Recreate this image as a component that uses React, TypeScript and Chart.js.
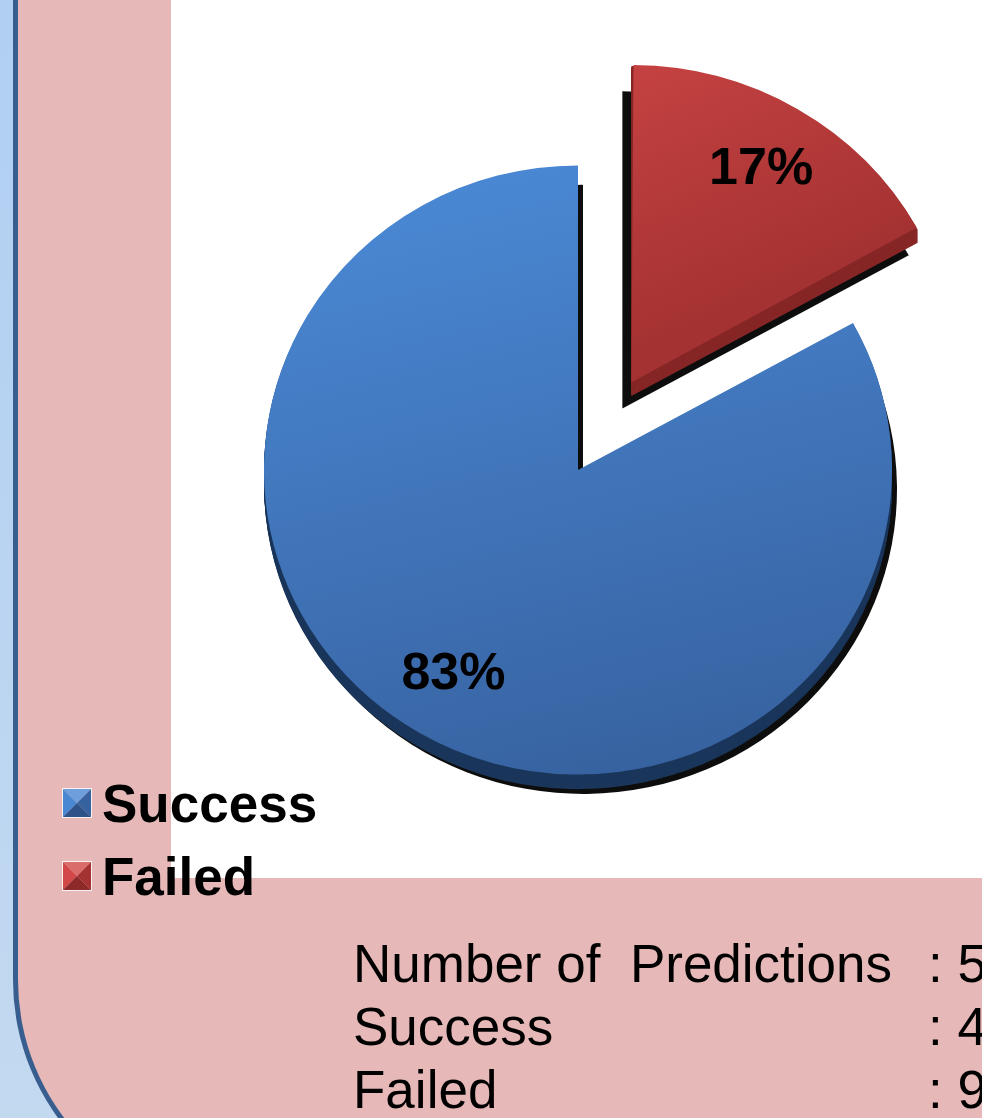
import React, { useEffect, useRef } from "react";
import { Chart, registerables } from "chart.js";

Chart.register(...registerables);

// ---- data ----
const categories = ["Success", "Failed"];
const counts = [44, 9];
const explodeOffsets = [0, 420];
const faceLight = ["#4a88d4", "#d24848"];
const faceDark = ["#3762a0", "#a53232"];
const sideColors = ["#1b365b", "#872626"];
const summaryLabels = ["Number of  Predictions", "Success", "Failed"];

const total = counts.reduce((a, b) => a + b, 0);
const summaryValues = [total, ...counts];

const SQUASH = 0.97;
const RADIUS = 314;
const FONT = '"Liberation Sans", Arial, Helvetica, sans-serif';
const shadowShift = [
  [5, 20],
  [-9, 27],
];
const depth = [15, 14];

function sliceGeom(el: any, offsetOpt: number) {
  const start = el.startAngle;
  const end = el.endAngle;
  const half = (start + end) / 2;
  const off = (offsetOpt || 0) / 4;
  const circ = end - start;
  const fix = 1 - Math.sin(Math.min(Math.PI, circ));
  return {
    x: el.x + Math.cos(half) * off,
    y: el.y + Math.sin(half) * off,
    r: el.outerRadius + off * fix,
    start,
    end,
    half,
  };
}

function slicePath(ctx: CanvasRenderingContext2D, g: any, dx: number, dy: number) {
  ctx.beginPath();
  ctx.moveTo(g.x + dx, g.y + dy);
  ctx.arc(g.x + dx, g.y + dy, g.r, g.start, g.end);
  ctx.closePath();
}

function centerOf(chart: any) {
  const a = chart.chartArea;
  return { cx: (a.left + a.right) / 2, cy: (a.top + a.bottom) / 2 };
}

const pie3d = {
  id: "pie3d",
  beforeDatasetsDraw(chart: any) {
    const ctx: CanvasRenderingContext2D = chart.ctx;
    const { cx, cy } = centerOf(chart);
    ctx.save();
    ctx.translate(cx, cy);
    ctx.scale(1, SQUASH);
    ctx.translate(-cx, -cy);
    const meta = chart.getDatasetMeta(0);
    const ds = chart.data.datasets[0];
    meta.data.forEach((el: any, i: number) => {
      const g = sliceGeom(el, ds.offset[i]);
      ctx.save();
      ctx.fillStyle = "rgba(0,0,0,0.95)";
      slicePath(ctx, g, shadowShift[i][0], shadowShift[i][1]);
      ctx.fill();
      ctx.restore();
      for (let t = depth[i]; t >= 1; t--) {
        ctx.fillStyle = sideColors[i];
        slicePath(ctx, g, 0, t);
        ctx.fill();
      }
    });
  },
  afterDatasetsDraw(chart: any) {
    const ctx: CanvasRenderingContext2D = chart.ctx;
    ctx.restore();
    const { cy } = centerOf(chart);
    const meta = chart.getDatasetMeta(0);
    const ds = chart.data.datasets[0];
    ctx.save();
    ctx.font = `bold 52px ${FONT}`;
    ctx.fillStyle = "#000";
    ctx.textAlign = "center";
    ctx.textBaseline = "middle";
    meta.data.forEach((el: any, i: number) => {
      const g = sliceGeom(el, ds.offset[i]);
      const rr = g.r * 0.78;
      const px = g.x + Math.cos(g.half) * rr;
      const pyRaw = g.y + Math.sin(g.half) * rr;
      const py = cy + (pyRaw - cy) * SQUASH;
      const pct = Math.round((ds.data[i] / total) * 100);
      ctx.fillText(pct + "%", px, py);
    });
    ctx.restore();
  },
};

const pieLegend = {
  id: "pieLegend",
  afterDraw(chart: any, _args: any, opts: any) {
    const ctx: CanvasRenderingContext2D = chart.ctx;
    const labels: string[] = chart.data.labels;
    ctx.save();
    ctx.font = `bold 53px ${FONT}`;
    ctx.textBaseline = "alphabetic";
    ctx.textAlign = "left";
    labels.forEach((lab, i) => {
      const x = opts.x;
      const y = opts.y + i * opts.step;
      const s = opts.box;
      const c = { x: x + s / 2, y: y + s / 2 };
      const tri = (pts: number[][], col: string) => {
        ctx.beginPath();
        ctx.moveTo(pts[0][0], pts[0][1]);
        for (let k = 1; k < pts.length; k++) ctx.lineTo(pts[k][0], pts[k][1]);
        ctx.closePath();
        ctx.fillStyle = col;
        ctx.fill();
      };
      const light = faceLight[i];
      const dark = faceDark[i];
      tri([[x, y], [x + s, y], [c.x, c.y]], light);
      tri([[x, y], [c.x, c.y], [x, y + s]], light);
      tri([[x + s, y], [x + s, y + s], [c.x, c.y]], dark);
      tri([[x, y + s], [c.x, c.y], [x + s, y + s]], dark);
      ctx.globalAlpha = 0.2;
      tri([[x, y], [x + s, y], [c.x, c.y]], "#ffffff");
      ctx.globalAlpha = 0.15;
      tri([[x, y + s], [c.x, c.y], [x + s, y + s]], "#000000");
      ctx.globalAlpha = 1;
      ctx.strokeStyle = "rgba(255,255,255,0.8)";
      ctx.lineWidth = 1;
      ctx.strokeRect(x - 0.5, y - 0.5, s + 1, s + 1);
      ctx.fillStyle = "#000";
      ctx.fillText(lab, opts.textX, y + opts.baseline);
    });
    ctx.restore();
  },
};

export default function App() {
  const canvasRef = useRef<HTMLCanvasElement | null>(null);

  useEffect(() => {
    if (!canvasRef.current) return;
    const chart = new Chart(canvasRef.current, {
      type: "pie",
      data: {
        labels: categories,
        datasets: [
          {
            data: counts,
            offset: explodeOffsets,
            hoverOffset: 0,
            borderWidth: 0,
            radius: RADIUS,
            rotation: (counts[1] / total) * 360,
            clip: false,
            backgroundColor: (c: any) => {
              const chart = c.chart;
              const a = chart.chartArea;
              const i = c.dataIndex;
              if (!a) return faceLight[i];
              const cx = (a.left + a.right) / 2;
              const cy = (a.top + a.bottom) / 2;
              const top = i === 0 ? cy - RADIUS : cy - RADIUS - 90;
              const bottom = i === 0 ? cy + RADIUS : cy - 60;
              const g = chart.ctx.createLinearGradient(cx - RADIUS * 0.3, top, cx + RADIUS * 0.2, bottom);
              g.addColorStop(0, faceLight[i]);
              g.addColorStop(1, faceDark[i]);
              return g;
            },
          } as any,
        ],
      },
      options: {
        animation: false,
        responsive: true,
        maintainAspectRatio: false,
        events: [],
        layout: { padding: { left: 174, right: 0, top: 0, bottom: 178 } },
        plugins: {
          legend: { display: false },
          tooltip: { enabled: false },
          pieLegend: { x: 63, y: 789, step: 73, box: 28, textX: 102, baseline: 33 },
        } as any,
      },
      plugins: [pie3d, pieLegend],
    });
    return () => chart.destroy();
  }, []);

  const rowTop = [932, 995, 1058];

  return (
    <div
      style={{
        position: "fixed",
        left: 0,
        top: 0,
        width: 982,
        height: 1118,
        overflow: "hidden",
        background: "linear-gradient(180deg, #b0cff3 0%, #c3d9f0 100%)",
      }}
    >
      <div
        style={{
          position: "absolute",
          left: 13,
          top: -10,
          width: 1200,
          height: 1224,
          boxSizing: "border-box",
          borderLeft: "5px solid #375e8e",
          borderBottom: "5px solid #375e8e",
          borderBottomLeftRadius: 234,
          background: "#e6b8b8",
        }}
      />
      <div
        style={{
          position: "absolute",
          left: 171,
          top: 0,
          width: 811,
          height: 878,
          background: "#ffffff",
        }}
      />
      <div style={{ position: "absolute", left: 0, top: 0, width: 982, height: 1118 }}>
        <canvas ref={canvasRef} style={{ display: "block" }} />
      </div>
      {summaryLabels.map((lab, i) => (
        <React.Fragment key={lab}>
          <div
            style={{
              position: "absolute",
              left: 353,
              top: rowTop[i],
              font: `53px ${FONT}`,
              lineHeight: "63px",
              whiteSpace: "pre",
              color: "#000",
            }}
          >
            {lab}
          </div>
          <div
            style={{
              position: "absolute",
              left: 928,
              top: rowTop[i],
              font: `53px ${FONT}`,
              lineHeight: "63px",
              whiteSpace: "pre",
              color: "#000",
            }}
          >
            {": " + summaryValues[i]}
          </div>
        </React.Fragment>
      ))}
    </div>
  );
}
